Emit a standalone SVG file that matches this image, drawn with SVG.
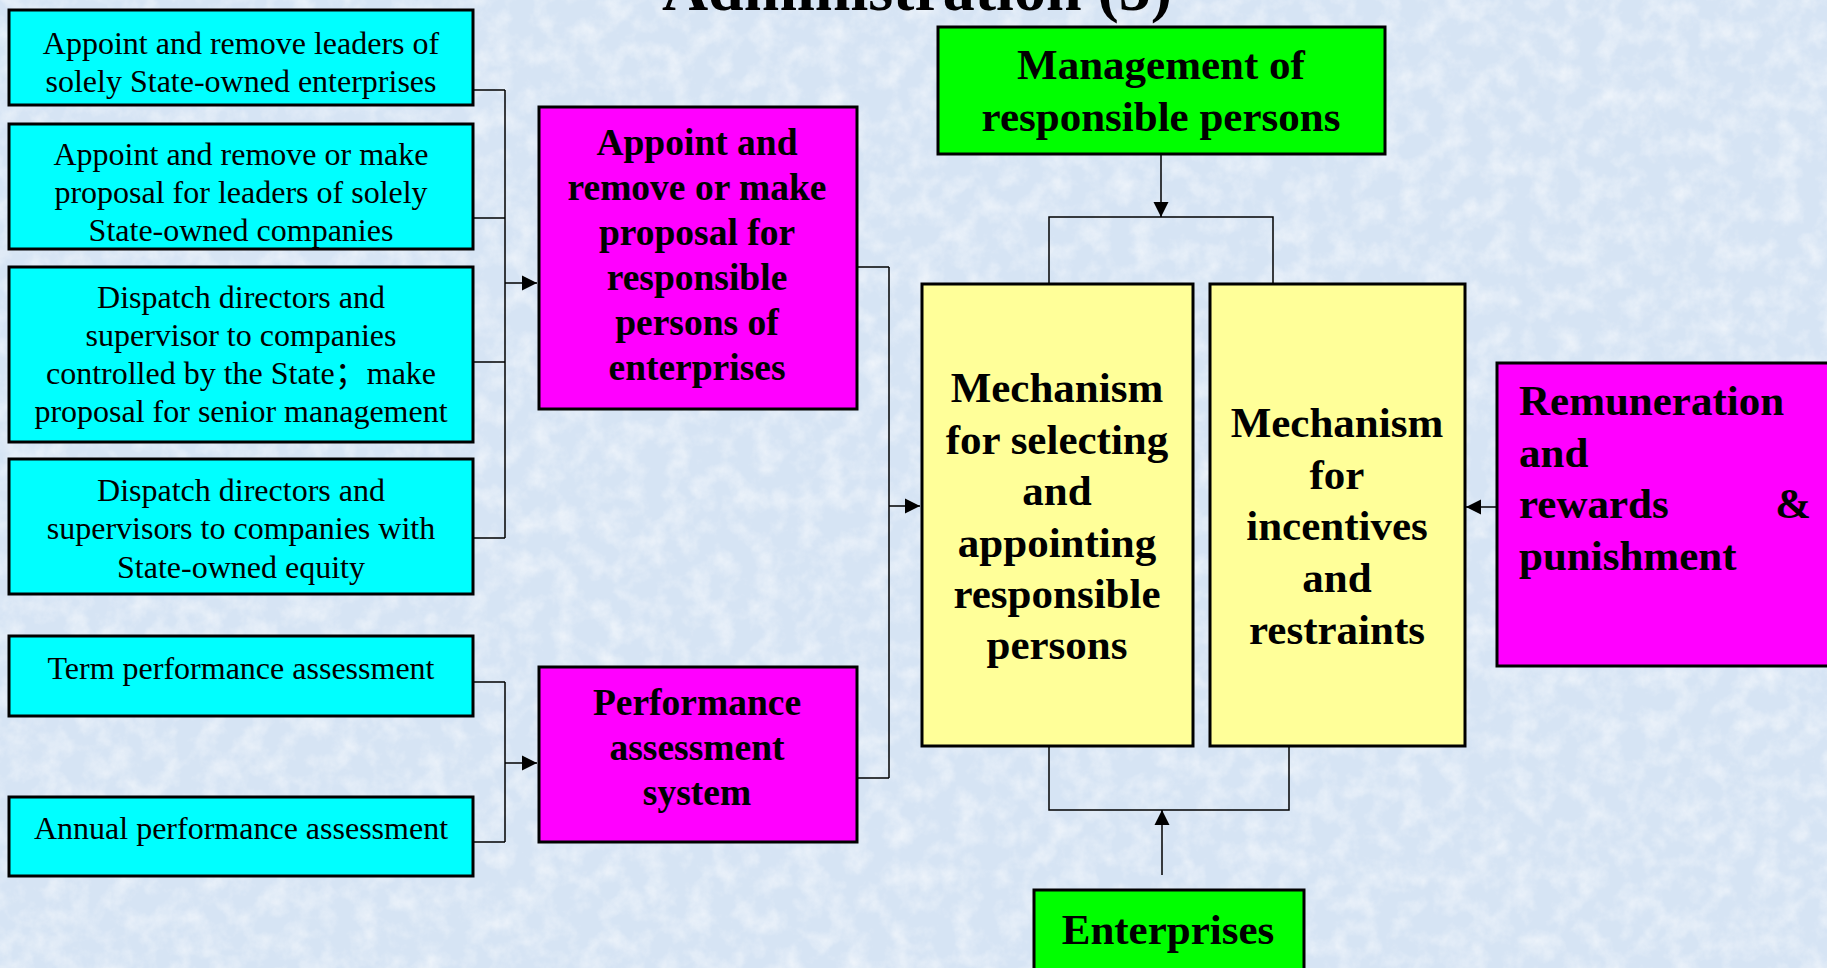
<svg xmlns="http://www.w3.org/2000/svg" width="1827" height="968" viewBox="0 0 1827 968">
<defs>
<style>
.box{stroke:#000;stroke-width:3}
.cyan{fill:#00ffff}
.mag{fill:#ff00ff}
.grn{fill:#00ff00}
.yel{fill:#ffff99}
.t{font-family:"Liberation Serif","Noto Sans CJK SC",serif;font-size:32px;fill:#000;text-anchor:middle}
.b{font-family:"Liberation Serif",serif;font-weight:bold;fill:#000;text-anchor:middle}
.b38{font-size:37.5px}
.b43{font-size:43px}
.conn{fill:none;stroke:#000;stroke-width:1.5}
</style>
<marker id="ah" markerUnits="userSpaceOnUse" markerWidth="16" markerHeight="16" viewBox="0 0 16 16" refX="15" refY="8" orient="auto">
<path d="M0,0.5 L15,8 L0,15.5 Z" fill="#000"/>
</marker>
<filter id="tex" x="0" y="0" width="100%" height="100%">
<feTurbulence type="fractalNoise" baseFrequency="0.045" numOctaves="4" seed="7"/>
<feColorMatrix type="matrix" values="0 0 0 0 1  0 0 0 0 1  0 0 0 0 1  0 0 0 1.5 -0.6"/>
</filter>
</defs>
<rect x="0" y="0" width="1827" height="968" fill="#d6e4f4"/>
<rect x="0" y="0" width="1827" height="968" filter="url(#tex)" opacity="0.7"/>

<text class="b" x="917" y="10" style="font-size:64px">Administration (5)</text>

<g id="connectors">
<path class="conn" d="M474,90 H505 M474,218 H505 M474,362 H505 M474,538 H505 M505,90 V538"/>
<path class="conn" d="M505,283 H537" marker-end="url(#ah)"/>
<path class="conn" d="M474,682 H505 M474,842 H505 M505,682 V842"/>
<path class="conn" d="M505,763 H537" marker-end="url(#ah)"/>
<path class="conn" d="M858,267 H889 M858,778 H889 M889,267 V778"/>
<path class="conn" d="M889,506 H920" marker-end="url(#ah)"/>
<path class="conn" d="M1161,155 V217" marker-end="url(#ah)"/>
<path class="conn" d="M1049,283 V217 H1273 V283"/>
<path class="conn" d="M1049,747 V810 H1289 V747"/>
<path class="conn" d="M1162,875 V810" marker-end="url(#ah)"/>
<path class="conn" d="M1496,507 H1466" marker-end="url(#ah)"/>
</g>

<g id="n-appoint-soe">
<rect class="box cyan" x="9" y="10" width="464" height="95"/>
<text class="t" x="241" y="54">Appoint and remove leaders of</text>
<text class="t" x="241" y="92">solely State-owned enterprises</text>
</g>
<g id="n-appoint-companies">
<rect class="box cyan" x="9" y="124" width="464" height="125"/>
<text class="t" x="241" y="165">Appoint and remove or make</text>
<text class="t" x="241" y="203">proposal for leaders of solely</text>
<text class="t" x="241" y="241">State-owned companies</text>
</g>
<g id="n-dispatch-controlled">
<rect class="box cyan" x="9" y="267" width="464" height="175"/>
<text class="t" x="241" y="308">Dispatch directors and</text>
<text class="t" x="241" y="346">supervisor to companies</text>
<text class="t" x="241" y="384">controlled by the State；make</text>
<text class="t" x="241" y="422">proposal for senior management</text>
</g>
<g id="n-dispatch-equity">
<rect class="box cyan" x="9" y="459" width="464" height="135"/>
<text class="t" x="241" y="501">Dispatch directors and</text>
<text class="t" x="241" y="539">supervisors to companies with</text>
<text class="t" x="241" y="578">State-owned equity</text>
</g>
<g id="n-term">
<rect class="box cyan" x="9" y="636" width="464" height="80"/>
<text class="t" x="241" y="679">Term performance assessment</text>
</g>
<g id="n-annual">
<rect class="box cyan" x="9" y="797" width="464" height="79"/>
<text class="t" x="241" y="839">Annual performance assessment</text>
</g>

<g id="n-appoint-responsible">
<rect class="box mag" x="539" y="107" width="318" height="302"/>
<text class="b b38" x="697" y="155">Appoint and</text>
<text class="b b38" x="697" y="200">remove or make</text>
<text class="b b38" x="697" y="245">proposal for</text>
<text class="b b38" x="697" y="290">responsible</text>
<text class="b b38" x="697" y="335">persons of</text>
<text class="b b38" x="697" y="380">enterprises</text>
</g>
<g id="n-performance">
<rect class="box mag" x="539" y="667" width="318" height="175"/>
<text class="b b38" x="697" y="715">Performance</text>
<text class="b b38" x="697" y="760">assessment</text>
<text class="b b38" x="697" y="805">system</text>
</g>

<g id="n-management">
<rect class="box grn" x="938" y="27" width="447" height="127"/>
<text class="b b43" x="1161" y="79">Management of</text>
<text class="b b43" x="1161" y="131">responsible persons</text>
</g>

<g id="n-selecting">
<rect class="box yel" x="922" y="284" width="271" height="462"/>
<text class="b b43" x="1057" y="402">Mechanism</text>
<text class="b b43" x="1057" y="454">for selecting</text>
<text class="b b43" x="1057" y="505">and</text>
<text class="b b43" x="1057" y="557">appointing</text>
<text class="b b43" x="1057" y="608">responsible</text>
<text class="b b43" x="1057" y="659">persons</text>
</g>
<g id="n-incentives">
<rect class="box yel" x="1210" y="284" width="255" height="462"/>
<text class="b b43" x="1337" y="437">Mechanism</text>
<text class="b b43" x="1337" y="489">for</text>
<text class="b b43" x="1337" y="540">incentives</text>
<text class="b b43" x="1337" y="592">and</text>
<text class="b b43" x="1337" y="644">restraints</text>
</g>

<g id="n-remuneration">
<rect class="box mag" x="1497" y="363" width="360" height="303"/>
<text class="b b43" x="1519" y="415" style="text-anchor:start">Remuneration</text>
<text class="b b43" x="1519" y="467" style="text-anchor:start">and</text>
<text class="b b43" x="1519" y="518" style="text-anchor:start">rewards</text>
<text class="b b43" x="1811" y="518" style="text-anchor:end">&amp;</text>
<text class="b b43" x="1519" y="570" style="text-anchor:start">punishment</text>
</g>

<g id="n-enterprises">
<rect class="box grn" x="1034" y="890" width="270" height="100"/>
<text class="b b43" x="1168" y="944">Enterprises</text>
</g>
</svg>
